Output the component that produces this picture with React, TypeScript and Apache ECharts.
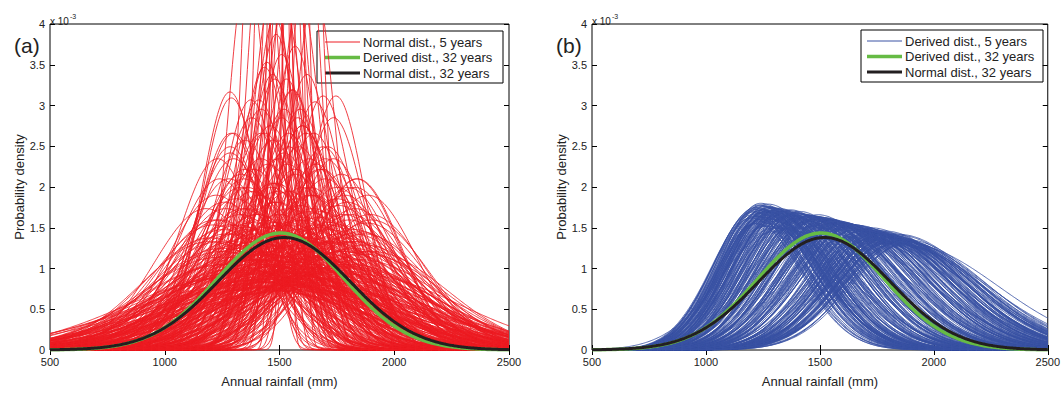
import React, { useEffect, useRef } from "react";
import * as echarts from "echarts";

// Panel (a): normal distributions fitted to 5-year samples (mean, sd in mm)
const redMean = [
  1400, 1430, 1450, 1470, 1490, 1500, 1510, 1520, 1530, 1545, 1560, 1575, 1590, 1610, 1630, 1360, 1655, 1500, 1560, 1480,
  1284, 1290, 1485, 1445, 1568, 1690, 1559, 1746, 1655, 1380, 1520, 1600, 1420, 1470, 1510, 1620, 1350, 1540, 1580, 1460,
  1300, 1330, 1360, 1390, 1410, 1430, 1450, 1470, 1490, 1500, 1520, 1540, 1555, 1570, 1590, 1610, 1630, 1650, 1680, 1700,
  1720, 1750, 1780, 1260, 1240, 1320, 1881, 1830, 1800, 1440, 1380, 1600, 1660, 1480,
  1300, 1350, 1400, 1420, 1450, 1480, 1500, 1520, 1540, 1560, 1580, 1600, 1620, 1650, 1680, 1700, 1720, 1750, 1780, 1820,
  1850, 1380, 1250, 1900, 1550, 1460, 1640, 1360,
  1450, 1450, 1500, 1550, 1600, 1650, 1350, 1700, 1480, 1580, 1420, 1620, 1400, 1520,
  1180, 1210, 1240, 1270, 1300, 1330, 1360, 1390, 1420, 1450, 1480, 1510, 1540, 1570, 1600, 1630, 1660, 1690, 1720, 1750,
  1780, 1810, 1840, 1870, 1900,
  1195, 1225, 1255, 1285, 1315, 1345, 1375, 1405, 1435, 1465, 1495, 1525, 1555, 1585, 1615, 1645, 1675, 1705, 1735, 1765,
  1795, 1825, 1855, 1885, 1350,
  1260, 1320, 1380, 1440, 1500, 1560, 1620, 1680, 1740, 1800, 1280, 1340, 1400, 1460, 1520, 1580, 1640, 1700, 1760, 1820,
  1420, 1480, 1540, 1600, 1660,
  1230, 1290, 1350, 1410, 1470, 1530, 1590, 1650, 1710, 1770, 1830, 1360, 1440, 1520, 1600, 1680, 1760, 1390, 1470, 1550,
  1630, 1710, 1310, 1500, 1700,
  1250, 1275, 1300, 1325, 1350, 1375, 1400, 1425, 1450, 1475, 1500, 1525, 1550, 1575, 1600, 1625, 1650, 1675, 1700, 1725,
  1750, 1775, 1800, 1825, 1850,
  1220, 1265, 1310, 1355, 1400, 1445, 1490, 1535, 1580, 1625, 1670, 1715, 1760, 1805, 1850, 1895, 1240, 1330, 1420, 1510,
  1600, 1690, 1780, 1870, 1460,
  1285, 1335, 1385, 1435, 1485, 1535, 1585, 1635, 1685, 1735, 1785, 1835, 1300, 1400, 1500, 1600, 1700, 1800, 1350, 1450,
  1550, 1650, 1750, 1330, 1630,
  1200, 1240, 1280, 1320, 1360, 1400, 1440, 1480, 1520, 1560, 1600, 1640, 1680, 1720, 1760, 1800, 1840, 1880, 1270, 1370,
  1470, 1570, 1670, 1770, 1540,
];
const redSd = [
  60, 75, 50, 90, 65, 40, 80, 95, 55, 70, 85, 45, 92, 70, 60, 85, 90, 25, 30, 98,
  126, 129, 103, 113, 107, 128, 125, 128, 131, 140, 135, 145, 150, 118, 110, 118, 155, 150, 140, 145,
  170, 200, 230, 180, 210, 250, 175, 195, 220, 240, 165, 205, 260, 185, 225, 245, 170, 210, 235, 190,
  255, 215, 240, 220, 250, 260, 256, 230, 200, 265, 255, 200, 260, 255,
  300, 330, 280, 360, 300, 390, 320, 350, 280, 370, 310, 340, 290, 380, 320, 350, 300, 390, 330, 300,
  360, 380, 320, 330, 300, 340, 270, 290,
  520, 480, 450, 500, 540, 470, 430, 420, 410, 440, 460, 500, 540, 420,
  230, 260, 190, 280, 150, 240, 200, 310, 170, 260, 220, 140, 290, 180, 250, 210, 330, 160, 270, 200,
  300, 240, 190, 280, 250,
  300, 210, 270, 160, 350, 190, 130, 240, 115, 200, 170, 260, 125, 320, 150, 230, 180, 290, 140, 350,
  220, 270, 330, 210, 410,
  380, 420, 360, 460, 500, 440, 400, 360, 420, 380, 190, 230, 270, 310, 350, 250, 210, 170, 260, 320,
  135, 120, 160, 145, 175,
  170, 150, 180, 130, 155, 120, 135, 150, 160, 185, 200, 420, 380, 470, 390, 450, 410, 300, 330, 280,
  300, 340, 360, 510, 480,
  330, 450, 280, 400, 520, 360, 300, 480, 340, 420, 260, 380, 550, 310, 440, 290, 500, 350, 410, 300,
  460, 330, 390, 280, 430,
  250, 230, 215, 265, 240, 280, 205, 255, 270, 235, 245, 260, 225, 250, 275, 240, 300, 320, 340, 310,
  330, 300, 290, 310, 360,
  165, 185, 205, 150, 195, 175, 160, 200, 180, 170, 210, 190, 440, 470, 410, 460, 430, 400, 360, 390,
  370, 350, 380, 500, 520,
  290, 350, 260, 310, 270, 330, 285, 365, 275, 315, 295, 345, 265, 305, 280, 325, 300, 340, 380, 410,
  440, 420, 395, 370, 230,
];

// Panel (b): derived distributions, 5 years (mode in mm, peak in 1e-3, left/right spread in mm)
const blueMode = [
  1200, 1210, 1220, 1230, 1240, 1245, 1250, 1255, 1260, 1265, 1270, 1275, 1280, 1285, 1290, 1295, 1300, 1305, 1310, 1215,
  1225, 1235, 1250, 1260, 1270, 1280, 1290, 1300, 1310, 1320, 1330, 1340, 1240, 1260, 1280,
  1350, 1360, 1370, 1380, 1390, 1400, 1410, 1420, 1430, 1440, 1450, 1460, 1470, 1480, 1490, 1500, 1510, 1520, 1530, 1540,
  1550, 1560, 1570, 1580, 1590, 1600, 1610, 1620, 1630, 1640, 1650, 1380, 1420, 1460, 1500,
  1680, 1690, 1700, 1710, 1720, 1730, 1740, 1750, 1760, 1770, 1780, 1790, 1800, 1810, 1820, 1830, 1840, 1850, 1860, 1870,
  1880, 1700, 1720, 1740, 1760, 1780, 1800, 1820, 1840, 1860, 1750, 1790, 1830, 1770, 1810,
  1205, 1218, 1232, 1247, 1262, 1276, 1291, 1306, 1320, 1335, 1349, 1364, 1378, 1393, 1407, 1422, 1436, 1451, 1465, 1480,
  1494, 1509, 1523, 1538, 1552, 1567, 1581, 1596, 1610, 1625, 1639, 1654, 1668, 1683, 1697, 1712, 1726, 1741, 1755, 1770,
  1784, 1799, 1813, 1828, 1842, 1857, 1228, 1268, 1312, 1356, 1398, 1444, 1488, 1532, 1576,
  1215, 1240, 1265, 1290, 1315, 1340, 1365, 1390, 1415, 1440, 1465, 1490, 1515, 1540, 1565, 1590, 1615, 1640, 1665, 1690,
  1715, 1740, 1765, 1790, 1815, 1840, 1235, 1255, 1275, 1295, 1325, 1355, 1385, 1475, 1565, 1655, 1745, 1835, 1725, 1805,
  1208, 1226, 1244, 1262, 1280, 1298, 1316, 1334, 1352, 1370, 1388, 1406, 1424, 1442, 1460, 1478, 1496, 1514, 1532, 1550,
  1568, 1586, 1604, 1622, 1640, 1658, 1676, 1694, 1712, 1730, 1748, 1766, 1784, 1802, 1820, 1838, 1856, 1258, 1302, 1348,
  1212, 1238, 1252, 1272, 1286, 1318, 1342, 1368, 1396, 1426, 1454, 1484, 1512, 1544, 1572, 1602, 1632, 1662, 1692, 1722,
  1752, 1782, 1812, 1842, 1866, 1222, 1246, 1270, 1296, 1330, 1410, 1540, 1620, 1700, 1780, 1850, 1880, 1300, 1450, 1600,
];
const bluePeak = [
  1.62, 1.7, 1.75, 1.68, 1.8, 1.78, 1.72, 1.65, 1.76, 1.7, 1.74, 1.66, 1.72, 1.6, 1.7, 1.74, 1.68, 1.58, 1.72, 1.55,
  1.64, 1.73, 1.69, 1.62, 1.67, 1.75, 1.61, 1.71, 1.65, 1.74, 1.7, 1.68, 1.57, 1.63, 1.69,
  1.7, 1.66, 1.72, 1.64, 1.68, 1.62, 1.7, 1.6, 1.66, 1.64, 1.58, 1.65, 1.62, 1.6, 1.66, 1.63, 1.58, 1.62, 1.6, 1.55,
  1.59, 1.56, 1.54, 1.58, 1.52, 1.55, 1.5, 1.53, 1.49, 1.51, 1.47, 1.58, 1.55, 1.52, 1.5,
  1.46, 1.42, 1.45, 1.4, 1.43, 1.38, 1.44, 1.36, 1.41, 1.37, 1.4, 1.34, 1.38, 1.33, 1.37, 1.31, 1.35, 1.3, 1.34, 1.29,
  1.32, 1.4, 1.36, 1.42, 1.35, 1.39, 1.33, 1.37, 1.31, 1.35, 1.44, 1.38, 1.36, 1.41, 1.32,
  1.66, 1.74, 1.78, 1.72, 1.69, 1.76, 1.71, 1.67, 1.73, 1.7, 1.64, 1.71, 1.66, 1.68, 1.62, 1.67, 1.63, 1.65, 1.6, 1.64,
  1.61, 1.58, 1.62, 1.57, 1.6, 1.55, 1.57, 1.52, 1.55, 1.5, 1.53, 1.48, 1.5, 1.46, 1.48, 1.44, 1.46, 1.42, 1.44, 1.4,
  1.42, 1.38, 1.4, 1.36, 1.37, 1.34, 1.6, 1.65, 1.63, 1.6, 1.57, 1.55, 1.53, 1.5, 1.48,
  1.72, 1.77, 1.7, 1.74, 1.66, 1.72, 1.65, 1.69, 1.61, 1.66, 1.6, 1.63, 1.56, 1.6, 1.54, 1.57, 1.51, 1.54, 1.48, 1.5,
  1.45, 1.47, 1.42, 1.44, 1.39, 1.41, 1.58, 1.63, 1.55, 1.6, 1.52, 1.56, 1.5, 1.45, 1.42, 1.4, 1.32, 1.3, 1.36, 1.34,
  1.69, 1.73, 1.76, 1.71, 1.75, 1.7, 1.72, 1.68, 1.7, 1.66, 1.68, 1.64, 1.66, 1.62, 1.64, 1.6, 1.62, 1.58, 1.6, 1.56,
  1.58, 1.54, 1.56, 1.52, 1.54, 1.5, 1.52, 1.48, 1.49, 1.45, 1.46, 1.42, 1.43, 1.39, 1.4, 1.36, 1.35, 1.52, 1.5, 1.48,
  1.64, 1.71, 1.67, 1.79, 1.63, 1.69, 1.62, 1.67, 1.6, 1.64, 1.57, 1.62, 1.55, 1.58, 1.52, 1.56, 1.5, 1.53, 1.47, 1.5,
  1.44, 1.46, 1.41, 1.42, 1.36, 1.55, 1.6, 1.52, 1.58, 1.5, 1.45, 1.4, 1.38, 1.34, 1.3, 1.28, 1.3, 1.45, 1.4, 1.35,
];
const blueSdL = [
  175, 180, 185, 170, 178, 190, 182, 195, 176, 188, 172, 198, 185, 180, 192, 178, 186, 200, 183, 173,
  181, 187, 193, 179, 185, 191, 177, 184, 196, 188, 182, 190, 186, 194, 180,
  190, 200, 195, 210, 205, 215, 200, 220, 210, 215, 225, 212, 218, 222, 208, 220, 226, 214, 230, 220,
  224, 228, 218, 232, 226, 222, 235, 228, 224, 236, 230, 200, 210, 220, 230,
  215, 220, 225, 210, 230, 218, 228, 222, 235, 225, 232, 220, 238, 228, 240, 230, 236, 245, 232, 242,
  238, 212, 226, 234, 220, 240, 224, 236, 246, 230, 218, 232, 244, 228, 238,
  178, 184, 172, 190, 181, 176, 195, 186, 179, 200, 188, 194, 205, 198, 210, 203, 215, 208, 220, 212,
  225, 217, 222, 230, 219, 228, 234, 224, 236, 226, 238, 230, 222, 240, 232, 226, 244, 236, 228, 242,
  234, 246, 238, 250, 240, 248, 165, 170, 175, 180, 185, 190, 195, 200, 205,
  186, 174, 192, 180, 198, 186, 204, 192, 210, 198, 216, 204, 222, 210, 228, 216, 234, 222, 240, 228,
  246, 234, 252, 240, 258, 246, 160, 168, 176, 184, 200, 210, 220, 240, 250, 260, 260, 270, 250, 255,
  170, 182, 176, 188, 180, 192, 184, 196, 188, 200, 192, 204, 196, 208, 200, 212, 204, 216, 208, 220,
  212, 224, 216, 228, 220, 232, 224, 236, 228, 240, 232, 244, 236, 248, 240, 252, 244, 200, 215, 230,
  180, 170, 188, 176, 194, 182, 200, 188, 206, 194, 212, 200, 218, 206, 224, 212, 230, 218, 236, 224,
  242, 230, 248, 236, 254, 185, 195, 205, 215, 225, 235, 245, 250, 255, 260, 250, 260, 240, 260, 270,
];
const blueSdR = [
  210, 225, 235, 215, 240, 228, 250, 220, 245, 232, 218, 255, 238, 226, 248, 230, 242, 222, 236, 212,
  228, 246, 234, 240, 224, 252, 230, 244, 238, 226, 250, 236, 216, 242, 232,
  240, 255, 250, 265, 258, 270, 262, 275, 268, 280, 272, 285, 278, 290, 282, 275, 288, 295, 284, 300,
  292, 296, 305, 298, 310, 302, 315, 308, 312, 320, 318, 260, 280, 290, 300,
  290, 300, 310, 295, 320, 305, 315, 325, 300, 335, 310, 330, 320, 345, 315, 340, 330, 355, 325, 350,
  345, 285, 305, 318, 332, 310, 340, 322, 350, 338, 296, 326, 344, 312, 336,
  215, 238, 224, 250, 232, 246, 228, 256, 240, 262, 248, 270, 255, 276, 262, 282, 268, 288, 274, 294,
  280, 300, 286, 306, 292, 312, 298, 318, 304, 324, 310, 330, 316, 336, 322, 342, 328, 348, 334, 354,
  340, 360, 346, 366, 352, 372, 260, 270, 280, 290, 300, 310, 320, 330, 340,
  226, 244, 234, 252, 242, 260, 250, 268, 258, 276, 266, 284, 274, 292, 282, 300, 290, 308, 298, 316,
  306, 324, 314, 332, 322, 340, 205, 215, 225, 235, 250, 265, 280, 300, 320, 340, 360, 380, 350, 370,
  220, 230, 226, 236, 232, 242, 238, 248, 244, 254, 250, 260, 256, 266, 262, 272, 268, 278, 274, 284,
  280, 290, 286, 296, 292, 302, 298, 308, 304, 314, 310, 320, 316, 326, 322, 332, 328, 300, 320, 340,
  205, 235, 215, 245, 225, 255, 235, 265, 245, 275, 255, 285, 265, 295, 275, 305, 285, 315, 295, 325,
  305, 335, 315, 345, 360, 230, 250, 270, 290, 310, 330, 350, 360, 370, 380, 390, 400, 330, 360, 380,
];

// 32-year distributions (mean, sd in mm)
const normal32 = { mean: 1520, sd: 289 };
const derived32 = { mean: 1505, sd: 278 };

const xTicks = [500, 1000, 1500, 2000, 2500];
const yTicks = [0, 0.5, 1, 1.5, 2, 2.5, 3, 3.5, 4];

const RED = "#ed1c24";
const BLUE = "#3a53a4";
const GREEN = "#66bb44";
const BLACK = "#231f20";
const FONT = "Liberation Sans, Arial, sans-serif";

const xs: number[] = [];
for (let x = xTicks[0]; x <= xTicks[xTicks.length - 1]; x += 5) xs.push(x);

const normalCurve = (m: number, s: number) =>
  xs.map((x) => {
    const z = (x - m) / s;
    return [x, +((1000 / (s * Math.sqrt(2 * Math.PI))) * Math.exp(-0.5 * z * z)).toFixed(4)];
  });
const splitCurve = (m: number, p: number, sl: number, sr: number) =>
  xs.map((x) => {
    const z = (x - m) / (x < m ? sl : sr);
    return [x, +(p * Math.exp(-0.5 * z * z)).toFixed(4)];
  });

function lineSeries(data: number[][], color: string, width: number, idx: number) {
  return {
    type: "line",
    data,
    xAxisIndex: idx,
    yAxisIndex: idx,
    showSymbol: false,
    symbol: "none",
    silent: true,
    clip: true,
    lineStyle: { color, width },
  };
}

export default function App() {
  const ref = useRef<HTMLDivElement>(null);
  useEffect(() => {
    if (!ref.current) return;
    const chart = echarts.init(ref.current, undefined, { renderer: "svg" });
    const series: any[] = [];
    redMean.forEach((m, i) => series.push(lineSeries(normalCurve(m, redSd[i]), RED, 0.85, 0)));
    series.push(lineSeries(normalCurve(derived32.mean, derived32.sd), GREEN, 3.5, 0));
    series.push(lineSeries(normalCurve(normal32.mean, normal32.sd), BLACK, 3, 0));
    blueMode.forEach((m, i) =>
      series.push(lineSeries(splitCurve(m, bluePeak[i], blueSdL[i], blueSdR[i]), BLUE, 0.85, 2))
    );
    series.push(lineSeries(normalCurve(derived32.mean, derived32.sd), GREEN, 3.5, 2));
    series.push(lineSeries(normalCurve(normal32.mean, normal32.sd), BLACK, 3, 2));

    const gridBase = { top: 24, width: 459, height: 333, show: true, borderColor: "#000", borderWidth: 1, backgroundColor: "#fff" };
    const tick = { show: true, inside: true, length: 5, lineStyle: { color: "#000" } };
    const xMain = (g: number) => ({
      gridIndex: g,
      type: "value",
      min: xTicks[0],
      max: xTicks[xTicks.length - 1],
      interval: 500,
      position: "bottom",
      axisLine: { show: false },
      axisTick: tick,
      axisLabel: { fontSize: 11, lineHeight: 11, color: "#222", margin: 6, fontFamily: FONT, formatter: (v: number) => String(v) },
      splitLine: { show: false },
      name: "Annual rainfall (mm)",
      nameLocation: "middle",
      nameGap: 25,
      nameTextStyle: { fontSize: 13, color: "#222", fontFamily: FONT },
    });
    const xTop = (g: number) => ({
      gridIndex: g,
      type: "value",
      min: xTicks[0],
      max: xTicks[xTicks.length - 1],
      interval: 500,
      position: "top",
      axisLine: { show: false },
      axisTick: tick,
      axisLabel: { show: false },
      splitLine: { show: false },
    });
    const yMain = (g: number) => ({
      gridIndex: g,
      type: "value",
      min: yTicks[0],
      max: yTicks[yTicks.length - 1],
      interval: 0.5,
      position: "left",
      axisLine: { show: false },
      axisTick: tick,
      axisLabel: { fontSize: 11, lineHeight: 10, color: "#222", margin: 5, fontFamily: FONT, formatter: (v: number) => String(v) },
      splitLine: { show: false },
      name: "Probability density",
      nameLocation: "middle",
      nameGap: 24,
      nameTextStyle: { fontSize: 13, color: "#222", fontFamily: FONT },
    });
    const yRight = (g: number) => ({
      gridIndex: g,
      type: "value",
      min: yTicks[0],
      max: yTicks[yTicks.length - 1],
      interval: 0.5,
      position: "right",
      axisLine: { show: false },
      axisTick: tick,
      axisLabel: { show: false },
      splitLine: { show: false },
    });

    const legend = (x: number, y: number, w: number, items: [string, string, number][], lx: number) => ({
      type: "group",
      children: [
        { type: "rect", shape: { x, y, width: w, height: 52 }, style: { fill: "#fff", stroke: "#000", lineWidth: 1 } },
        ...items.flatMap(([label, color, lw], i) => [
          { type: "line", shape: { x1: lx, y1: y + 11 + i * 15.5, x2: lx + 35, y2: y + 11 + i * 15.5 }, style: { stroke: color, lineWidth: lw } },
          {
            type: "text",
            x: lx + 38,
            y: y + 11 + i * 15.5,
            style: { text: label, fontSize: 13, fontFamily: FONT, fill: "#222", verticalAlign: "middle", align: "left" },
          },
        ]),
      ],
    });
    const scaleText = (x: number) => ({
      type: "text",
      x,
      y: 10,
      style: {
        text: "{a|x 10}{b|-3}",
        rich: {
          a: { fontSize: 10, fontFamily: FONT, fill: "#222", padding: [6, 0, 0, 0] },
          b: { fontSize: 7, fontFamily: FONT, fill: "#222", padding: [0, 0, 4, 1] },
        },
      },
    });

    chart.setOption({
      animation: false,
      backgroundColor: "#fff",
      grid: [
        { ...gridBase, left: 50 },
        { ...gridBase, left: 592 },
      ],
      xAxis: [xMain(0), xTop(0), xMain(1), xTop(1)],
      yAxis: [yMain(0), yRight(0), yMain(1), yRight(1)],
      series,
      graphic: [
        { type: "text", x: 14, y: 45, style: { text: "(a)", fontSize: 21, fontFamily: FONT, fill: "#222", verticalAlign: "middle" } },
        { type: "text", x: 556, y: 45, style: { text: "(b)", fontSize: 21, fontFamily: FONT, fill: "#222", verticalAlign: "middle" } },
        scaleText(50),
        scaleText(592),
        legend(317, 31, 186, [
          ["Normal dist., 5 years", RED, 1],
          ["Derived dist., 32 years", GREEN, 3.5],
          ["Normal dist., 32 years", BLACK, 3],
        ], 325),
        legend(861, 30, 182, [
          ["Derived dist., 5 years", BLUE, 1],
          ["Derived dist., 32 years", GREEN, 3.5],
          ["Normal dist., 32 years", BLACK, 3],
        ], 867),
      ],
    });
    return () => chart.dispose();
  }, []);
  return <div ref={ref} style={{ position: "fixed", left: 0, top: 0, width: 1063, height: 393, background: "#fff" }} />;
}
